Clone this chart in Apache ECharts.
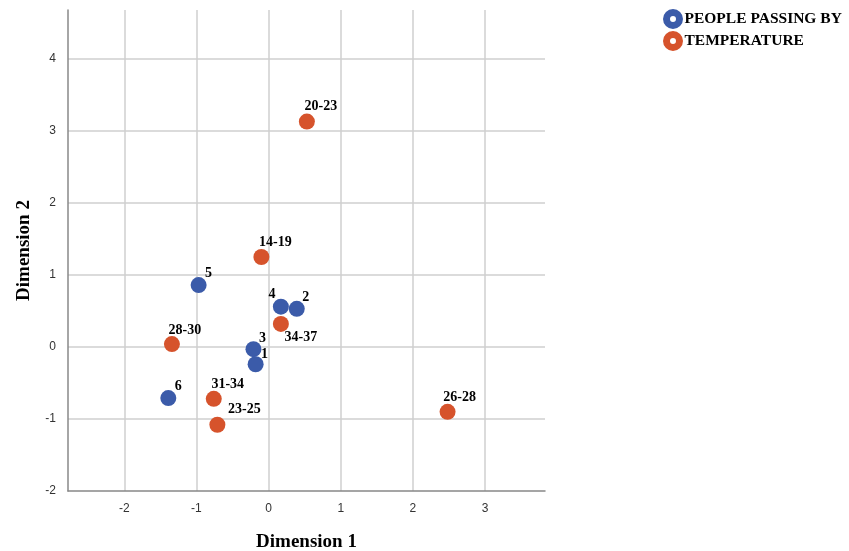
<!DOCTYPE html>
<html lang="en">

<head>
    <meta charset="UTF-8">
    <title>Dimension plot</title>
    <script src="https://cdn.jsdelivr.net/npm/echarts@6/dist/echarts.min.js"></script>
</head>

<body style="margin:0;background-color:#fff;">
    <div id="main" style="position:absolute;left:0;top:0;width:849px;height:551px"></div>

    <script>
        // people passing by
        var peopleNames = ['5', '4', '2', '3', '1', '6'];
        var peopleX = [-0.97, 0.17, 0.39, -0.21, -0.18, -1.39];
        var peopleY = [0.86, 0.56, 0.53, -0.03, -0.24, -0.71];

        // temperature
        var tempNames = ['20-23', '14-19', '34-37', '28-30', '31-34', '23-25', '26-28'];
        var tempX = [0.53, -0.10, 0.17, -1.34, -0.76, -0.71, 2.48];
        var tempY = [3.13, 1.25, 0.32, 0.04, -0.72, -1.08, -0.90];

        // where each label sits relative to its point (px)
        var labelOffset = {
            '5': [10, -12], '4': [-9, -12], '2': [9, -11], '3': [9, -11], '1': [9, -10], '6': [10, -12],
            '20-23': [14, -15], '14-19': [14, -15], '34-37': [20, 13], '28-30': [13, -14],
            '31-34': [14, -14], '23-25': [27, -15], '26-28': [12, -14]
        };

        function makeData(names, xs, ys) {
            var out = [];
            names.forEach(function(n, i) {
                out.push({
                    name: n,
                    value: [xs[i], ys[i]],
                    label: { offset: labelOffset[n] }
                });
            });
            return out;
        }

        var serif = '"Liberation Serif", "DejaVu Serif", serif';
        var blue = '#3b5ba9';
        var orange = '#d6532c';

        var pointLabel = {
            show: true,
            position: 'inside',
            formatter: '{b}',
            fontFamily: serif,
            fontWeight: 'bold',
            fontSize: 14,
            color: '#000'
        };

        var myCharts = echarts.init(document.getElementById('main'));
        myCharts.setOption({
            animation: false,
            grid: { left: 68, right: 304, top: 10, bottom: 60, outerBoundsMode: 'none' },
            legend: {
                orient: 'vertical',
                left: 663,
                top: 9,
                padding: 0,
                itemWidth: 13,
                itemHeight: 13,
                itemGap: 2,
                icon: 'circle',
                textStyle: {
                    fontFamily: serif,
                    fontWeight: 'bold',
                    fontSize: 15.5,
                    color: '#000'
                },
                data: [
                    { name: 'PEOPLE PASSING BY', itemStyle: { color: '#fff', borderColor: blue, borderWidth: 7 } },
                    { name: 'TEMPERATURE', itemStyle: { color: '#fff', borderColor: orange, borderWidth: 7 } }
                ]
            },
            xAxis: {
                type: 'value',
                min: -2.78,
                max: 3.83,
                splitNumber: 6,
                name: 'Dimension 1',
                nameLocation: 'middle',
                nameGap: 42,
                nameTextStyle: { fontFamily: serif, fontWeight: 'bold', fontSize: 19, color: '#000' },
                axisLine: { show: true, onZero: false, lineStyle: { color: '#888', width: 1.5 } },
                axisTick: { show: false },
                axisLabel: { showMinLabel: false, showMaxLabel: false, color: '#333', fontSize: 12, margin: 12, fontFamily: 'Arial, "Liberation Sans", sans-serif' },
                splitLine: { show: true, showMinLine: false, showMaxLine: false, lineStyle: { color: '#cfcfcf', width: 1.5 } }
            },
            yAxis: {
                type: 'value',
                min: -2,
                max: 4.68,
                interval: 1,
                name: 'Dimension 2',
                nameLocation: 'middle',
                nameGap: 34,
                nameTextStyle: { fontFamily: serif, fontWeight: 'bold', fontSize: 19, color: '#000' },
                axisLine: { show: true, onZero: false, lineStyle: { color: '#888', width: 1.5 } },
                axisTick: { show: false },
                axisLabel: { showMaxLabel: false, color: '#333', fontSize: 12, margin: 12, fontFamily: 'Arial, "Liberation Sans", sans-serif' },
                splitLine: { show: true, showMinLine: false, showMaxLine: false, lineStyle: { color: '#cfcfcf', width: 1.5 } }
            },
            series: [{
                name: 'PEOPLE PASSING BY',
                type: 'scatter',
                symbolSize: 16,
                itemStyle: { color: blue, opacity: 1 },
                label: pointLabel,
                data: makeData(peopleNames, peopleX, peopleY)
            }, {
                name: 'TEMPERATURE',
                type: 'scatter',
                symbolSize: 16,
                itemStyle: { color: orange, opacity: 1 },
                label: pointLabel,
                data: makeData(tempNames, tempX, tempY)
            }]
        });
    </script>
</body>

</html>
